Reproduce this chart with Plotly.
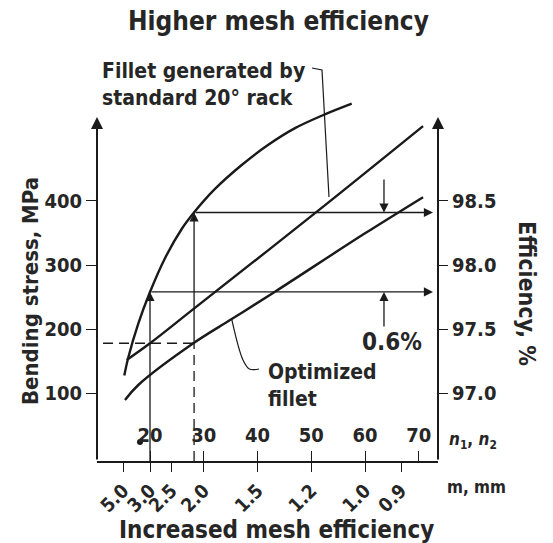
import plotly.graph_objects as go

# ---------------- data ----------------
n_ticks = [20, 30, 40, 50, 60, 70]                     # number of teeth n1, n2
m_labels = ["5.0", "3.0", "2.5", "2.0", "1.5", "1.2", "1.0", "0.9"]  # module, mm
m_at_n = [15, 20, 24, 30, 40, 50, 60, 66.7]            # n position of each module label
stress_ticks = [100, 200, 300, 400]                    # MPa
eff_ticks = [97.0, 97.5, 98.0, 98.5]                   # %

# mesh efficiency curve (right axis)
eff_n = [15.22, 15.96, 17.82, 20.0, 22.79, 25.9, 28.37, 32.09, 37.06, 42.01, 46.98, 51.94, 57.53]
eff_val = [97.136, 97.277, 97.542, 97.789, 98.053, 98.281, 98.419, 98.594, 98.781,
           98.939, 99.069, 99.166, 99.260]

# bending stress, fillet generated by standard 20 deg rack
std_n = [15.67, 20, 28.06, 50.7, 70.8]
std_S = [151.6, 177.7, 231, 381, 517]

# bending stress, optimized fillet
opt_n = [15.35, 17.82, 28.06, 35.2, 43.26, 60, 70.8]
opt_S = [89, 112.5, 177.7, 215.5, 258.3, 349.5, 406]

allow_S = 177.7        # allowable bending stress
n_std = 20             # teeth with standard fillet
n_opt = 28.2           # teeth with optimized fillet
eff_std = 97.79
eff_opt = 98.41

# ---------------- scales ----------------
X_RANGE = [10.14, 73.58]
Y_RANGE = [-6.25, 620.3]
E0, EK = 96.5, 0.005                       # efficiency = E0 + EK * stress
Y2_RANGE = [E0 + EK * Y_RANGE[0], E0 + EK * Y_RANGE[1]]
Y_TOP_ARROW = 531.25

OFF = 8                                    # default page margin of the html body
W, H = 553 - OFF, 543 - OFF
ML, MT = 97 - OFF, 60 - OFF
PW, PH = 341, 401
MR, MB = W - ML - PW, H - MT - PH

def px(x):
    return (x - OFF - ML) / PW

def py(y):
    return (MT + PH - (y - OFF)) / PH

FONT = "Liberation Sans Narrow, Arial Narrow, DejaVu Sans Condensed, sans-serif"
TXT = "#262626"
INK = "#1a1a1a"

fig = go.Figure()

def line(x, y, width=2.4, dash=None, shape="linear", yaxis="y"):
    fig.add_trace(go.Scatter(x=x, y=y, yaxis=yaxis, mode="lines",
                             line=dict(color=INK, width=width, dash=dash, shape=shape),
                             hoverinfo="skip", showlegend=False))

line(eff_n, eff_val, shape="spline", yaxis="y2")
line(std_n, std_S, shape="spline")
line(opt_n, opt_S, shape="spline")

# dashed guide lines (allowable stress)
line([11.26, n_opt], [allow_S, allow_S], width=1.3, dash="10px,6px")
line([n_opt, n_opt], [Y_RANGE[0], allow_S], width=1.3, dash="10px,6px")
# vertical solid line at n_std below the arrow
line([n_std, n_std], [Y_RANGE[0], allow_S], width=1.3)

# small dot near label 20
fig.add_trace(go.Scatter(x=[18.14], y=[23.4], xaxis="x2", mode="markers",
                         marker=dict(color=INK, size=6),
                         hoverinfo="skip", showlegend=False))

# leader lines
line([50.14, 52.0, 53.3], [607.8, 604.7, 406.25], width=1.2)
line([35.2, 37.3, 38.5, 40.3], [215.5, 151.6, 137.5, 137.5], width=1.2, shape="spline")

ann = []

def arrow(x0, y0, x1, y1, yref="y", width=1.3, size=1.4):
    ann.append(dict(x=x1, y=y1, ax=x0, ay=y0, xref="x", yref=yref, axref="x", ayref=yref,
                    text="", showarrow=True, arrowhead=2, arrowsize=size,
                    arrowwidth=width, arrowcolor=INK, standoff=0, startstandoff=0))

# axes with arrowheads
arrow(X_RANGE[0], Y_RANGE[0], X_RANGE[0], Y_TOP_ARROW, width=2, size=1.2)
arrow(X_RANGE[1], Y_RANGE[0], X_RANGE[1], Y_TOP_ARROW, width=2, size=1.2)

# vertical arrows up to efficiency curve
arrow(n_std, E0 + EK * allow_S, n_std, eff_std, yref="y2")
arrow(n_opt, E0 + EK * allow_S, n_opt, eff_opt, yref="y2")
# horizontal arrows to efficiency axis
arrow(n_std, eff_std, 72.65, eff_std, yref="y2")
arrow(n_opt, eff_opt, 72.65, eff_opt, yref="y2")
# 0.6 % difference markers
arrow(63.53, 98.68, 63.53, eff_opt, yref="y2")
arrow(63.53, 97.508, 63.53, eff_std, yref="y2")

def text(t, x, y, size, xanchor="center", angle=0, align="center"):
    ann.append(dict(text=t, x=px(x), y=py(y), xref="paper", yref="paper",
                    showarrow=False, xanchor=xanchor, yanchor="middle",
                    textangle=angle, align=align,
                    font=dict(family=FONT, size=size, color=TXT, weight="bold")))

text("Higher mesh efficiency", 278, 21, 26)
text("Increased mesh efficiency", 276, 530, 24)
text("Fillet generated by<br>standard 20° rack", 100, 84, 21, xanchor="left", align="left")
text("Optimized<br>fillet", 266, 385, 21, xanchor="left", align="left")
text("0.6%", 392, 342, 24)
text("Bending stress, MPa", 30, 291, 22, angle=-90)
text("Efficiency, %", 527, 293, 23, angle=90)
text("<i>n</i><sub>1</sub>, <i>n</i><sub>2</sub>", 447, 440, 17, xanchor="left")
text("m, mm", 445, 487, 17, xanchor="left")

tickfont = dict(family=FONT, size=20, color=TXT, weight="bold")

fig.update_layout(
    width=W, height=H,
    margin=dict(l=ML, r=MR, t=MT, b=MB),
    paper_bgcolor="white", plot_bgcolor="white",
    showlegend=False,
    annotations=ann,
    xaxis=dict(range=X_RANGE, tickvals=n_ticks, ticks="inside", ticklen=10, tickwidth=1.4,
               tickcolor=INK, ticklabelposition="inside", ticklabelstandoff=6,
               showline=True, linewidth=2, linecolor=INK, showgrid=False, zeroline=False,
               tickfont=tickfont),
    xaxis2=dict(range=X_RANGE, overlaying="x", anchor="y", side="bottom",
                tickvals=m_at_n, ticktext=m_labels, ticks="outside", ticklen=10,
                tickwidth=1.4, tickcolor=INK, tickangle=-45, showline=False,
                ticklabelstandoff=0,
                showgrid=False, zeroline=False,
                tickfont=dict(family=FONT, size=19, color=TXT, weight="bold")),
    yaxis=dict(range=Y_RANGE, tickvals=stress_ticks, ticks="outside", ticklen=10,
               tickwidth=1.4, tickcolor=INK, showline=False, showgrid=False,
               zeroline=False, tickfont=tickfont),
    yaxis2=dict(range=Y2_RANGE, overlaying="y", side="right", anchor="x",
                tickvals=eff_ticks, ticktext=["%.1f" % v for v in eff_ticks],
                ticks="outside", ticklen=9, tickwidth=1.4, tickcolor=INK,
                showline=False, showgrid=False, zeroline=False, tickfont=tickfont),
)

fig.write_html("out.html")
